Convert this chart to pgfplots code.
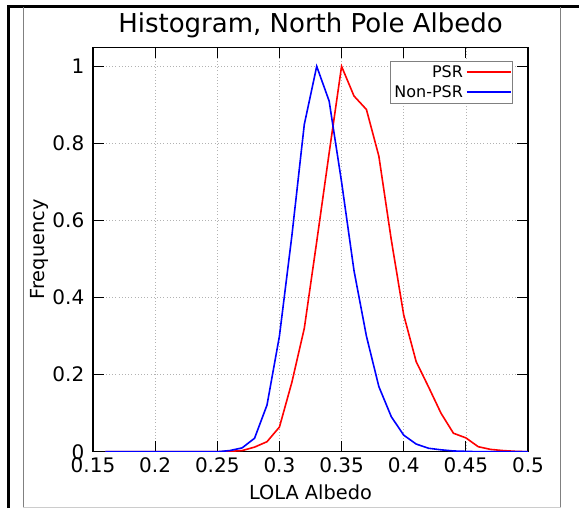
\documentclass[border=0pt]{standalone}
\usepackage{fontspec}
\setmainfont{DejaVu Sans}
\usepackage{pgfplots}
\pgfplotsset{compat=1.18}
\begin{document}
\begin{tikzpicture}
\path[use as bounding box] (0pt,0pt) rectangle (434.25pt,381pt);
% frames
\draw[line width=1.65pt] (6.4pt,0pt) -- (6.4pt,376.1pt) -- (434.25pt,376.1pt);
\draw[gray,line width=0.6pt] (17.25pt,0pt) -- (17.25pt,375.8pt);
\draw[gray,line width=0.6pt] (420.5pt,0pt) -- (420.5pt,375.8pt);
\draw[gray!40,line width=0.6pt] (17.25pt,0.5pt) -- (420.5pt,0.5pt);
\begin{axis}[
  at={(69.75pt,42.2pt)}, anchor=south west,
  scale only axis, width=326.25pt, height=303.5pt,
  xmin=0.15, xmax=0.5, ymin=0, ymax=1.05,
  xtick={0.15,0.2,0.25,0.3,0.35,0.4,0.45,0.5},
  xticklabels={0.15,0.2,0.25,0.3,0.35,0.4,0.45,0.5},
  ytick={0,0.2,0.4,0.6,0.8,1},
  yticklabels={0,0.2,0.4,0.6,0.8,1},
  tick align=inside, major tick length=8pt,
  xtick pos=both, ytick pos=both,
  tick style={black, line width=0.8pt},
  axis line style={black, line width=0.8pt},
  grid=major, major grid style={dotted, gray!60, line width=0.5pt},
  ticklabel style={font=\fontsize{15}{18}\selectfont},
  xticklabel style={yshift=-1pt},
  yticklabel style={xshift=-3pt},
  title={Histogram, North Pole Albedo},
  title style={font=\fontsize{19.5}{23}\selectfont, yshift=-3pt},
  xlabel={LOLA Albedo}, ylabel={Frequency},
  label style={font=\fontsize{14.5}{17}\selectfont},
  xlabel style={yshift=-2pt},
  ylabel style={yshift=-4pt},
  legend style={at={(0.9655,0.9654)}, anchor=north east, draw=gray,
    font=\fontsize{12}{14.5}\selectfont, inner sep=1pt, row sep=0.6pt},
  legend cell align=right, legend plot pos=right,
  legend image code/.code={\draw[#1, line width=1.3pt] (0pt,0.3pt) -- (33pt,0.3pt);},
]
\addplot[red, line width=1.2pt] coordinates {
(0.16,0) (0.17,0) (0.18,0) (0.19,0) (0.20,0) (0.21,0) (0.22,0) (0.23,0) (0.24,0) (0.25,0)
(0.26,0.001) (0.27,0.003) (0.28,0.012) (0.29,0.026) (0.30,0.064) (0.31,0.18) (0.32,0.32)
(0.33,0.545) (0.34,0.775) (0.35,1.0) (0.36,0.923) (0.37,0.888) (0.38,0.767) (0.39,0.55)
(0.40,0.355) (0.41,0.234) (0.42,0.168) (0.43,0.10) (0.44,0.048) (0.45,0.036) (0.46,0.013)
(0.47,0.006) (0.48,0.003) (0.49,0.001) (0.50,0)
};
\addlegendentry{PSR}
\addplot[blue, line width=1.2pt] coordinates {
(0.16,0) (0.17,0) (0.18,0) (0.19,0) (0.20,0) (0.21,0) (0.22,0) (0.23,0) (0.24,0) (0.25,0)
(0.26,0.003) (0.27,0.01) (0.28,0.035) (0.29,0.121) (0.30,0.30) (0.31,0.56) (0.32,0.849)
(0.33,1.0) (0.34,0.91) (0.35,0.70) (0.36,0.47) (0.37,0.30) (0.38,0.169) (0.39,0.091)
(0.40,0.043) (0.41,0.02) (0.42,0.009) (0.43,0.005) (0.44,0.002) (0.45,0.001) (0.46,0)
(0.47,0) (0.48,0) (0.49,0) (0.50,0)
};
\addlegendentry{Non-PSR}
\end{axis}
\end{tikzpicture}
\end{document}
